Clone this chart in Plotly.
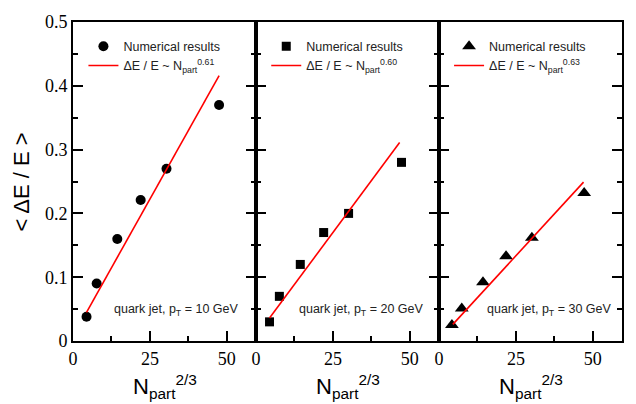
import plotly.graph_objects as go
from plotly.subplots import make_subplots

# ---- data ----
npart23 = [4.4, 7.7, 14.4, 22.0, 30.4, 47.5]
de_10 = [0.038, 0.090, 0.160, 0.221, 0.270, 0.370]

npart23_b = [4.4, 7.6, 14.4, 22.0, 30.1, 47.3]
de_20 = [0.030, 0.070, 0.120, 0.170, 0.200, 0.280]

npart23_c = [4.2, 7.4, 14.3, 21.8, 30.2, 47.2]
de_30 = [0.025, 0.051, 0.092, 0.133, 0.162, 0.232]

fit_x_10 = [4.4, 47.5]
fit_y_10 = [0.045, 0.416]
fit_x_20 = [4.4, 46.7]
fit_y_20 = [0.036, 0.311]
fit_x_30 = [4.5, 47.0]
fit_y_30 = [0.026, 0.249]

exponents = ["0.61", "0.60", "0.63"]
pt_labels = ["10", "20", "30"]
x_ticks = [0, 25, 50]
y_ticks = [0, 0.1, 0.2, 0.3, 0.4, 0.5]

SANS = "Liberation Sans"
SERIF = "Liberation Serif"

fig = make_subplots(rows=1, cols=3, shared_yaxes=True, horizontal_spacing=0)

panels = [
    (npart23, de_10, fit_x_10, fit_y_10, "circle", 10),
    (npart23_b, de_20, fit_x_20, fit_y_20, "square", 9),
    (npart23_c, de_30, fit_x_30, fit_y_30, "triangle-up", 12),
]

legend_names = ["legend", "legend2", "legend3"]
for i, (xs, ys, fx, fy, sym, sz) in enumerate(panels):
    col = i + 1
    fig.add_trace(go.Scatter(x=xs, y=ys, mode="markers",
                             marker=dict(symbol=sym, size=sz, color="black"),
                             name="Numerical results", legend=legend_names[i]),
                  row=1, col=col)
    fig.add_trace(go.Scatter(x=fx, y=fy, mode="lines",
                             line=dict(color="red", width=1.6),
                             name="ΔE / E ~ N<sub>part</sub><sup>" + exponents[i] + "</sup>",
                             legend=legend_names[i]),
                  row=1, col=col)

tick_font = dict(family=SERIF, size=18, color="black")

for col in range(1, 4):
    fig.update_xaxes(range=[0, 59.5], tickvals=x_ticks, ticktext=["0", "25", "50"],
                     showline=True, linecolor="black", linewidth=2, mirror=True,
                     ticks="inside", ticklen=10, tickwidth=2, tickcolor="black",
                     showgrid=False, zeroline=False,
                     tickfont=tick_font,
                     minor=dict(ticks="inside", ticklen=5, tickwidth=2, tickcolor="black",
                                dtick=12.5, tick0=0, showgrid=False),
                     row=1, col=col)
    fig.update_yaxes(range=[0, 0.5], tickvals=y_ticks,
                     ticktext=["0", "0.1", "0.2", "0.3", "0.4", "0.5"],
                     showline=True, linecolor="black", linewidth=2, mirror="ticks",
                     ticks="inside", ticklen=10, tickwidth=2, tickcolor="black",
                     showgrid=False, zeroline=False,
                     tickfont=tick_font,
                     minor=dict(ticks="inside", ticklen=5, tickwidth=2, tickcolor="black",
                                dtick=0.05, tick0=0, showgrid=False),
                     row=1, col=col)

legend_style = dict(font=dict(family=SANS, size=12.5, color="#222"), bgcolor="rgba(0,0,0,0)",
                    itemwidth=30, yanchor="top", xanchor="left", tracegroupgap=0)
fig.update_layout(
    legend=dict(x=0.019, y=0.97, **legend_style),
    legend2=dict(x=0.352, y=0.97, **legend_style),
    legend3=dict(x=0.685, y=0.97, **legend_style),
)

# quark-jet labels
qx = [12.8, 13.3, 15.0]
for i in range(3):
    ax = "x" if i == 0 else f"x{i+1}"
    ay = "y" if i == 0 else f"y{i+1}"
    fig.add_annotation(x=qx[i], y=0.049, xref=ax, yref=ay, xanchor="left", yanchor="middle",
                       text="quark jet, p<sub>T</sub> = " + pt_labels[i] + " GeV",
                       showarrow=False, font=dict(family=SANS, size=12.5, color="#222"))

# x-axis titles
for i in range(3):
    fig.add_annotation(x=(i + 0.5) / 3, y=-0.1425, xref="paper", yref="paper",
                       xanchor="center", yanchor="middle",
                       text="N<sub>part</sub><sup>2/3</sup>", showarrow=False,
                       font=dict(family=SANS, size=22, color="black"))

# y-axis title
fig.add_annotation(x=-0.093, y=0.5, xref="paper", yref="paper", xanchor="center", yanchor="middle",
                   text="< ΔE / E >", textangle=-90, showarrow=False,
                   font=dict(family=SANS, size=22, color="black"))

fig.update_layout(width=636, height=404, margin=dict(l=73, r=12, t=14, b=63),
                  font=dict(family=SERIF),
                  plot_bgcolor="white", paper_bgcolor="white", showlegend=True)

fig.write_html("out.html")
